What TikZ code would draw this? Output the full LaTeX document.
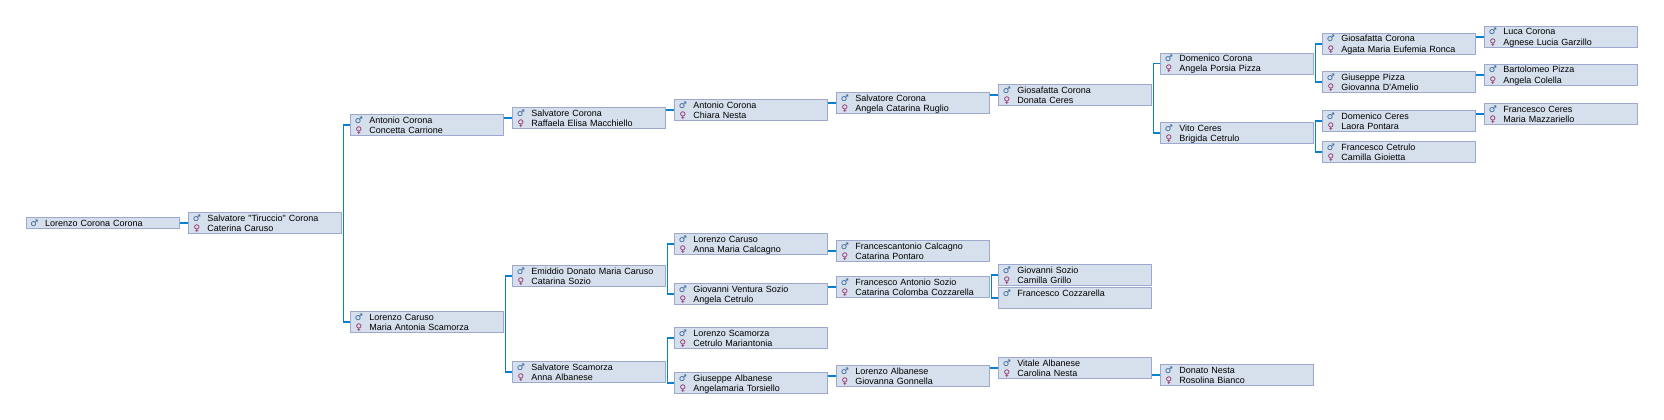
\documentclass[tikz,border=0pt]{standalone}
\usepackage{fontspec}
\usetikzlibrary{calc}
\newfontfamily\pplfont[WordSpace=1.45]{Liberation Sans}
\newfontfamily\pplsym{DejaVu Sans}
\definecolor{boxfill}{HTML}{D6E0EC}
\definecolor{boxline}{HTML}{9DA8CE}
\definecolor{connblue}{HTML}{0A80D0}
\definecolor{maleblue}{HTML}{2F5F96}
\definecolor{femalered}{HTML}{8E1F62}
\newcommand\rowstrut{\rule[-1.9pt]{0pt}{9.9pt}}
\newcommand\rowm[1]{\rowstrut\smash{\makebox[13pt][c]{\pplsym\bfseries\fontsize{9}{10}\selectfont\color{maleblue}♂}\hspace{4pt}#1}}
\newcommand\rowf[1]{\rowstrut\smash{\makebox[13pt][c]{\pplsym\bfseries\fontsize{9}{10}\selectfont\color{femalered}♀}\hspace{4pt}#1}}
\tikzset{
  personbox/.style={draw=boxline,fill=boxfill,line width=0.9pt,anchor=north west,outer sep=0pt,
    minimum width=153.6pt,minimum height=21.3pt,inner xsep=2pt,inner ysep=0pt,
    text width=149.6pt,align=left,font=\pplfont\fontsize{9}{10}\selectfont},
  singlebox/.style={personbox,minimum height=10.7pt},
  conn/.style={draw=connblue,line width=1.5pt}
}
\newcommand\person[5]{\node[personbox] (#1) at (#2,#3) {\rowm{#4}\\\rowf{#5}};}
\newcommand\fork[3]{\coordinate (#1bus) at ($(#1.east)+(1.5,0)$);
  \draw[conn] (#2.west) -| (#1bus) |- (#3.west);}
\newcommand\link[2]{\draw[conn] (#1.east |- #2.west) -- (#2.west);}
\begin{document}
\begin{tikzpicture}[x=1pt,y=-1pt]
\useasboundingbox[fill=white] (0,0) rectangle (1664,420);
\node[singlebox] (A) at (26,217.7) {\rowm{Lorenzo Corona Corona}};
\person{B}{188.3}{212.3}{Salvatore "Tiruccio" Corona}{Caterina Caruso}
\person{C}{350.3}{114.3}{Antonio Corona}{Concetta Carrione}
\person{D}{350.3}{311.3}{Lorenzo Caruso}{Maria Antonia Scamorza}
\person{E}{512.3}{107.3}{Salvatore Corona}{Raffaela Elisa Macchiello}
\person{F}{512.3}{265.3}{Emiddio Donato Maria Caruso}{Catarina Sozio}
\person{G}{512.3}{361.3}{Salvatore Scamorza}{Anna Albanese}
\person{H}{674.3}{99.3}{Antonio Corona}{Chiara Nesta}
\person{I}{674.3}{233.3}{Lorenzo Caruso}{Anna Maria Calcagno}
\person{J}{674.3}{283.3}{Giovanni Ventura Sozio}{Angela Cetrulo}
\person{K}{674.3}{327.3}{Lorenzo Scamorza}{Cetrulo Mariantonia}
\person{L}{674.3}{372.3}{Giuseppe Albanese}{Angelamaria Torsiello}
\person{M}{836.3}{92.3}{Salvatore Corona}{Angela Catarina Ruglio}
\person{N}{836.3}{240.3}{Francescantonio Calcagno}{Catarina Pontaro}
\person{O}{836.3}{276.3}{Francesco Antonio Sozio}{Catarina Colomba Cozzarella}
\person{P}{836.3}{365.3}{Lorenzo Albanese}{Giovanna Gonnella}
\person{Q}{998.3}{84.3}{Giosafatta Corona}{Donata Ceres}
\person{R}{998.3}{264.3}{Giovanni Sozio}{Camilla Grillo}
\node[personbox] (S) at (998.3,287.3) {\rowm{Francesco Cozzarella}\\\rowstrut};
\person{T}{998.3}{357.3}{Vitale Albanese}{Carolina Nesta}
\person{U}{1160.3}{53}{Domenico Corona}{Angela Porsia Pizza}
\person{V}{1160.3}{122.3}{Vito Ceres}{Brigida Cetrulo}
\person{W}{1160.3}{364.3}{Donato Nesta}{Rosolina Bianco}
\person{X}{1322.3}{33.3}{Giosafatta Corona}{Agata Maria Eufemia Ronca}
\person{Y}{1322.3}{71.3}{Giuseppe Pizza}{Giovanna D'Amelio}
\person{Z}{1322.3}{110.3}{Domenico Ceres}{Laora Pontara}
\person{AA}{1322.3}{141.3}{Francesco Cetrulo}{Camilla Gioietta}
\person{AB}{1484.3}{26.3}{Luca Corona}{Agnese Lucia Garzillo}
\person{AC}{1484.3}{64.3}{Bartolomeo Pizza}{Angela Colella}
\person{AD}{1484.3}{103.3}{Francesco Ceres}{Maria Mazzariello}
\link{A}{B}
\fork{B}{C}{D}
\link{C}{E}
\fork{D}{F}{G}
\link{E}{H}
\fork{F}{I}{J}
\fork{G}{K}{L}
\link{H}{M}
\link{I}{N}
\link{J}{O}
\link{L}{P}
\link{M}{Q}
\fork{O}{R}{S}
\link{P}{T}
\fork{Q}{U}{V}
\link{T}{W}
\fork{U}{X}{Y}
\fork{V}{Z}{AA}
\link{X}{AB}
\link{Y}{AC}
\link{Z}{AD}
\end{tikzpicture}
\end{document}
